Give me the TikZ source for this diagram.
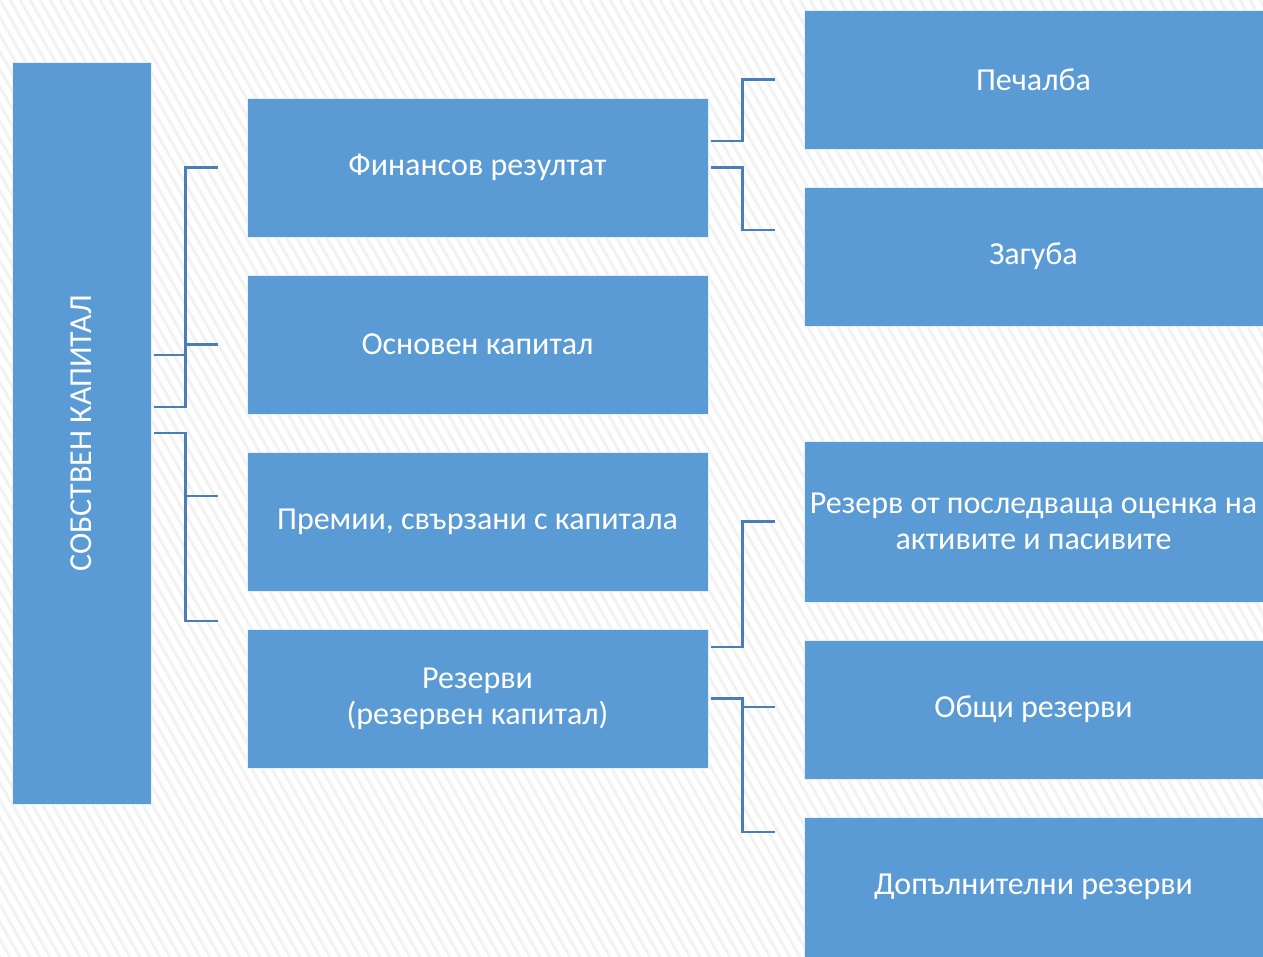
\documentclass[tikz,border=0pt]{standalone}
\usepackage{fontspec}
\setmainfont{Carlito}
\definecolor{boxblue}{RGB}{91,155,213}
\definecolor{connblue}{RGB}{74,126,187}
\definecolor{stripegray}{RGB}{242,242,242}
\tikzset{
  box/.style={rectangle, fill=boxblue, draw=white!85!boxblue, line width=0.8pt, inner sep=0pt, text=white, font=\fontsize{32}{36}\selectfont, align=center},
  midbox/.style={box, minimum width=461pt, minimum height=139pt},
  rbox/.style={box, minimum width=459pt, minimum height=139pt},
  conn/.style={draw=connblue, line width=2.5pt},
  stripe/.style={draw=stripegray, line width=3pt}
}
\begin{document}
\begin{tikzpicture}[x=1pt,y=-1pt]
\useasboundingbox (0,0) rectangle (1263,957);
\fill[white] (0,0) rectangle (1263,957);
\begin{scope}
\clip (0,0) rectangle (1263,957);
\foreach \i in {-60,...,130} \draw[stripe] (\i*10,0) -- ++(550,957);
\end{scope}

\node[box, minimum width=139pt, minimum height=742pt] (sob) at (81.5,433) {};
\node[text=white, font=\fontsize{32}{36}\selectfont, rotate=90] (sobt) at (81.5,433.5) {СОБСТВЕН КАПИТАЛ};

\node[midbox] (fin) at (477.5,167.5) {Финансов резултат};
\node[midbox] (osn) at (477.5,344.5) {Основен капитал};
\node[midbox] (prem) at (477.5,521.5) {Премии, свързани с капитала};
\node[midbox] (rez) at (477.5,698.5) {Резерви\\(резервен капитал)};

\node[rbox] (pech) at (1033.5,79.5) {Печалба};
\node[rbox] (zag) at (1033.5,256.5) {Загуба};
\node[rbox, minimum height=161pt] (posl) at (1033.5,521.5) {Резерв от последваща оценка на\\активите и пасивите};
\node[rbox] (obs) at (1033.5,709.5) {Общи резерви};
\node[rbox, minimum height=140pt] (dop) at (1033.5,887) {Допълнителни резерви};

% left brackets
\draw[conn] ([xshift=3pt,yshift=26pt]sob.east) -- ++(31,0) |- ([xshift=-29pt]fin.west);
\draw[conn] ([xshift=3pt,yshift=78pt]sob.east) -- ++(31,0);
\draw[conn] ([xshift=-29pt]osn.west) -- ++(-33,0);
\draw[conn] ([xshift=3pt]sob.east) -- ++(31,0) |- ([xshift=-29pt,yshift=77.5pt]rez.west);
\draw[conn] ([xshift=-29pt,yshift=25.5pt]prem.west) -- ++(-33,0);

% right brackets
\draw[conn] ([xshift=3pt,yshift=26.5pt]fin.east) -- ++(31,0) |- ([xshift=-29pt]pech.west);
\draw[conn] ([xshift=3pt]fin.east) -- ++(31,0) |- ([xshift=-29pt,yshift=26.5pt]zag.west);
\draw[conn] ([xshift=3pt,yshift=51.5pt]rez.east) -- ++(31,0) |- ([xshift=-29pt]posl.west);
\draw[conn] ([xshift=3pt]rez.east) -- ++(31,0) |- ([xshift=-29pt,yshift=55pt]dop.west);
\draw[conn] ([xshift=-29pt,yshift=2.5pt]obs.west) -- ++(-33,0);
\end{tikzpicture}
\end{document}
